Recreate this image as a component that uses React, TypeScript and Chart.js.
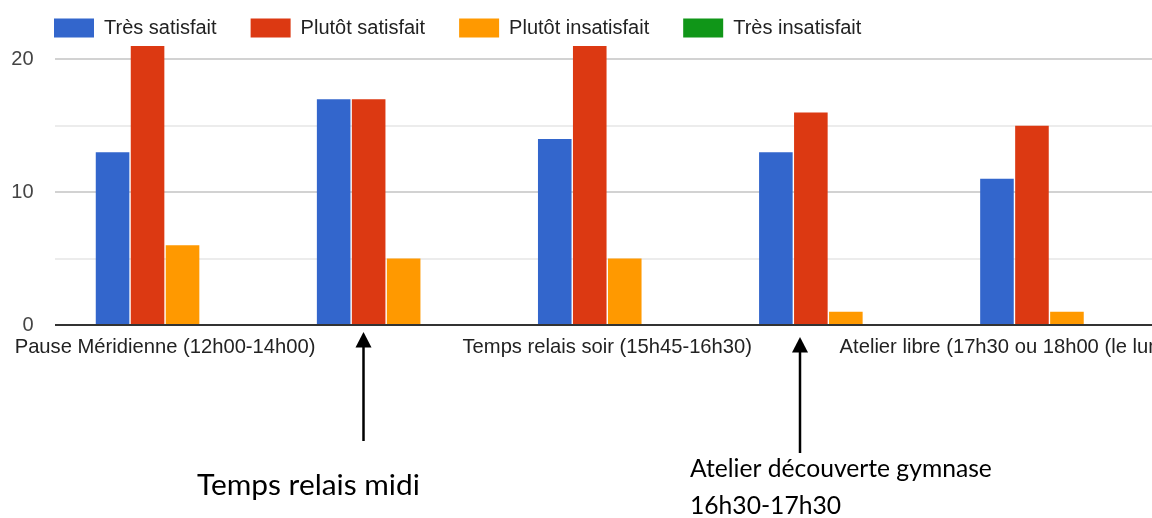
import React, { useEffect, useRef } from 'react';
import { Chart, registerables } from 'chart.js';

Chart.register(...registerables);

// ---------- data ----------
const CATEGORIES = [
  'Pause Méridienne (12h00-14h00)',
  'Temps relais midi',
  'Temps relais soir (15h45-16h30)',
  'Atelier découverte gymnase (16h30-17h30)',
  'Atelier libre (17h30 ou 18h00 (le lundi et jeudi))',
];
const SERIES_NAMES = ['Très satisfait', 'Plutôt satisfait', 'Plutôt insatisfait', 'Très insatisfait'];
const TRES_SATISFAIT = [13, 17, 14, 13, 11];
const PLUTOT_SATISFAIT = [21, 17, 21, 16, 15];
const PLUTOT_INSATISFAIT = [6, 5, 5, 1, 1];
const TRES_INSATISFAIT = [0, 0, 0, 0, 0];
const SERIES_COLORS = ['#3366cc', '#dc3912', '#ff9900', '#109618'];
const Y_TICKS = [0, 5, 10, 15, 20];
const Y_LABELED = [0, 10, 20];
const X_LABELED = [0, 2, 4];
const ANNOTATION_MIDI = ['Temps relais midi'];
const ANNOTATION_GYM = ['Atelier découverte gymnase', '16h30-17h30'];

const FONT = "'Liberation Sans', Arial, sans-serif";
const NOTE_FONT = "Lato, 'Open Sans', sans-serif";

function fitSize(ctx: CanvasRenderingContext2D, text: string, target: number): number {
  ctx.font = `40px ${NOTE_FONT}`;
  const w = ctx.measureText(text).width;
  return (40 * target) / w;
}

function drawArrow(ctx: CanvasRenderingContext2D, x: number, tipY: number, tailY: number) {
  const headLen = 15.5;
  const half = 8;
  ctx.beginPath();
  ctx.moveTo(x, tipY + headLen - 1);
  ctx.lineTo(x, tailY);
  ctx.stroke();
  ctx.beginPath();
  ctx.moveTo(x, tipY);
  ctx.lineTo(x - half, tipY + headLen);
  ctx.lineTo(x + half, tipY + headLen);
  ctx.closePath();
  ctx.fill();
}

// shift the legend so its first box lines up with the plot area, as in the original
const legendShiftPlugin = {
  id: 'legendShift',
  afterLayout(chart: any) {
    if (chart.legend) chart.legend.left = 20;
  },
};

const annotationPlugin = {
  id: 'annotationsBelow',
  afterDraw(chart: any) {
    const ctx: CanvasRenderingContext2D = chart.ctx;
    ctx.save();
    ctx.strokeStyle = '#000';
    ctx.fillStyle = '#000';
    ctx.lineWidth = 2.5;
    drawArrow(ctx, 363.5, 332, 441);
    drawArrow(ctx, 800, 337, 453);

    ctx.textAlign = 'left';
    ctx.textBaseline = 'alphabetic';
    const s1 = fitSize(ctx, ANNOTATION_MIDI[0], 223);
    ctx.font = `${s1}px ${NOTE_FONT}`;
    ctx.fillText(ANNOTATION_MIDI[0], 197, 495);

    const s2 = fitSize(ctx, ANNOTATION_GYM[0], 302);
    ctx.font = `${s2}px ${NOTE_FONT}`;
    ctx.fillText(ANNOTATION_GYM[0], 690, 477);
    ctx.fillText(ANNOTATION_GYM[1], 690, 514);
    ctx.restore();
  },
};

export default function App() {
  const canvasRef = useRef<HTMLCanvasElement | null>(null);

  useEffect(() => {
    const canvas = canvasRef.current;
    if (!canvas) return;
    const values = [TRES_SATISFAIT, PLUTOT_SATISFAIT, PLUTOT_INSATISFAIT, TRES_INSATISFAIT];
    const chart = new Chart(canvas, {
      type: 'bar',
      data: {
        labels: CATEGORIES,
        datasets: SERIES_NAMES.map((name, i) => ({
          label: name,
          data: values[i],
          backgroundColor: SERIES_COLORS[i],
          borderWidth: 0,
          categoryPercentage: 0.633,
          barPercentage: 0.96,
        })),
      },
      options: {
        responsive: false,
        maintainAspectRatio: false,
        animation: false,
        devicePixelRatio: 1,
        layout: { padding: { top: -16, left: 0, right: 0, bottom: 0 } },
        plugins: {
          tooltip: { enabled: false },
          legend: {
            position: 'top',
            align: 'start',
            maxHeight: 62,
            labels: {
              boxWidth: 40,
              boxHeight: 19,
              padding: 34,
              color: '#222',
              font: { family: FONT, size: 20 },
            },
          },
        },
        scales: {
          x: {
            grid: { display: false, drawTicks: false },
            border: { display: false },
            ticks: {
              autoSkip: false,
              maxRotation: 0,
              minRotation: 0,
              padding: 10,
              color: '#222',
              font: { family: FONT, size: 20.2 },
              callback: (_v: any, i: number) => (X_LABELED.includes(i) ? CATEGORIES[i] : ''),
            },
            afterFit: (s: any) => {
              s.paddingLeft = 0;
              s.paddingRight = 0;
              s.height = 193;
            },
          },
          y: {
            min: 0,
            max: 21,
            border: { display: false },
            grid: {
              drawTicks: false,
              lineWidth: 2,
              color: (c: any) => {
                const v = c.tick ? c.tick.value : null;
                if (v === 0) return '#333333';
                if (v !== null && v % 10 === 0) return '#d2d2d2';
                return '#ececec';
              },
            },
            afterBuildTicks: (s: any) => {
              s.ticks = Y_TICKS.map((v) => ({ value: v }));
            },
            ticks: {
              padding: 21,
              color: '#444',
              font: { family: FONT, size: 20 },
              callback: (v: any) => (Y_LABELED.includes(Number(v)) ? String(v) : ''),
            },
            afterFit: (s: any) => {
              s.width = 54.5;
            },
          },
        },
      },
      plugins: [legendShiftPlugin, annotationPlugin],
    });
    return () => chart.destroy();
  }, []);

  return (
    <div
      style={{
        position: 'fixed',
        left: 0,
        top: 0,
        width: 1152,
        height: 518,
        overflow: 'hidden',
        background: '#fff',
      }}
    >
      <canvas ref={canvasRef} width={1160} height={518} style={{ display: 'block' }} />
    </div>
  );
}
